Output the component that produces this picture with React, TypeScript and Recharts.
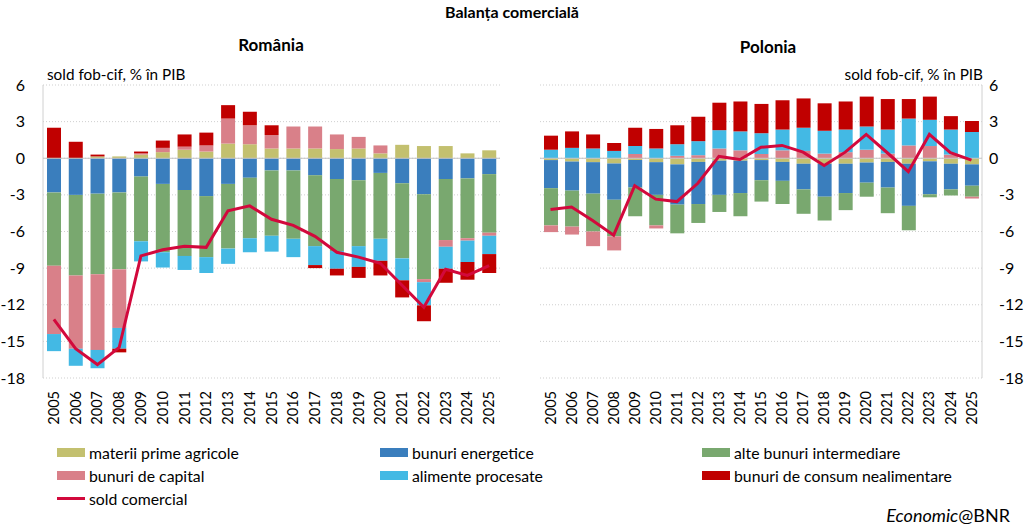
import React from 'react';
import {
  ComposedChart, Bar, Line, XAxis, YAxis, CartesianGrid, ReferenceLine,
} from 'recharts';

const years = ['2005','2006','2007','2008','2009','2010','2011','2012','2013','2014','2015','2016','2017','2018','2019','2020','2021','2022','2023','2024','2025'];
const yTicks = [-18, -15, -12, -9, -6, -3, 0, 3, 6];

// România
const roAgri = [0, 0, 0.15, 0.15, 0.3, 0.5, 0.7, 0.55, 1.2, 1.15, 0.8, 0.8, 0.8, 0.75, 0.8, 0.4, 1.1, 1.0, 1.0, 0.4, 0.65];
const roEnergy = [-2.8, -3.0, -2.9, -2.8, -1.5, -2.1, -2.6, -3.1, -2.1, -1.6, -1.0, -1.0, -1.4, -1.7, -1.8, -1.2, -2.05, -2.95, -1.7, -1.65, -1.3];
const roInter = [-6.0, -6.6, -6.6, -6.3, -5.3, -5.6, -5.4, -5.0, -5.3, -4.95, -5.35, -5.6, -5.8, -5.9, -5.4, -5.4, -6.15, -6.95, -5.0, -4.9, -4.8];
const roCapital = [-5.6, -6.0, -6.2, -4.8, 0.1, 0.35, 0.25, 0.5, 2.05, 1.55, 1.1, 1.8, 1.8, 1.2, 0.95, 0.65, 0, -0.25, -0.55, -0.2, -0.25];
const roFood = [-1.4, -1.4, -1.5, -1.7, -1.65, -1.25, -1.15, -1.3, -1.25, -1.15, -1.3, -1.5, -1.55, -1.45, -1.7, -1.8, -1.8, -1.9, -1.8, -1.75, -1.5];
const roConsumer = [2.5, 1.35, 0.15, -0.3, 0.15, 0.6, 1.0, 1.05, 1.1, 1.1, 0.8, 0, -0.25, -0.55, -0.9, -1.2, -1.4, -1.3, -1.15, -1.45, -1.55];
const roBalance = [-13.2, -15.6, -16.9, -15.5, -8.0, -7.5, -7.2, -7.3, -4.3, -3.9, -5.0, -5.5, -6.4, -7.7, -8.1, -8.6, -10.4, -12.2, -9.1, -9.6, -8.8];

// Polonia
const plAgri = [-0.15, -0.27, -0.32, -0.43, -0.15, -0.32, -0.5, -0.3, -0.2, -0.2, -0.15, -0.3, -0.45, -0.45, -0.45, -0.35, -0.3, -0.45, -0.25, -0.45, -0.5];
const plEnergy = [-2.3, -2.38, -2.58, -2.97, -2.25, -2.68, -3.3, -3.45, -2.8, -2.65, -1.65, -1.55, -2.1, -2.7, -2.4, -1.65, -2.1, -3.45, -2.7, -2.1, -1.75];
const plInter = [-3.05, -2.95, -3.1, -3.0, -2.35, -2.5, -2.35, -1.55, -1.4, -1.9, -1.75, -1.9, -2.0, -1.95, -1.4, -1.15, -2.1, -2.0, -0.25, -0.5, -0.9];
const plCapital = [-0.55, -0.65, -1.2, -1.15, 0.35, -0.25, 0.2, 0.25, 0.8, 0.65, 0.35, 0.65, 0.6, 0.38, 0.5, 0.7, 0.38, 1.05, 1.0, 0.3, -0.15];
const plFood = [0.7, 0.85, 0.8, 0.6, 0.65, 0.8, 0.95, 1.15, 1.5, 1.55, 1.7, 1.7, 1.9, 1.87, 1.85, 1.9, 1.97, 2.2, 2.15, 2.05, 2.15];
const plConsumer = [1.15, 1.35, 1.15, 0.65, 1.5, 1.6, 1.55, 2.0, 2.25, 2.45, 2.4, 2.4, 2.4, 2.25, 2.3, 2.45, 2.5, 1.6, 1.9, 1.1, 0.9];
const plBalance = [-4.2, -4.0, -5.1, -6.3, -2.25, -3.35, -3.55, -2.05, 0.15, -0.1, 0.9, 1.05, 0.5, -0.6, 0.5, 1.95, 0.45, -1.1, 1.95, 0.45, -0.15];

const seriesKeys = ['agri', 'energy', 'inter', 'capital', 'food', 'consumer'];
const seriesNames = ['materii prime agricole', 'bunuri energetice', 'alte bunuri intermediare', 'bunuri de capital', 'alimente procesate', 'bunuri de consum nealimentare'];
const seriesColors = ['#C3C06F', '#3A7EBD', '#79A86F', '#D98089', '#43B9E4', '#C00000'];
const lineName = 'sold comercial';
const lineColor = '#D2093C';

const build = (a: number[], e: number[], i: number[], c: number[], f: number[], n: number[], b: number[]) =>
  years.map((y, k) => ({ year: y, agri: a[k], energy: e[k], inter: i[k], capital: c[k], food: f[k], consumer: n[k], balance: b[k] }));

const roData = build(roAgri, roEnergy, roInter, roCapital, roFood, roConsumer, roBalance);
const plData = build(plAgri, plEnergy, plInter, plCapital, plFood, plConsumer, plBalance);

const FONT = 'Lato, "Noto Sans", sans-serif';

const YearTick = (props: any) => {
  const { x, y, payload } = props;
  return (
    <g transform={`translate(${x},${y + 13})`}>
      <text transform="rotate(-90)" textAnchor="end" dy="0.35em" fontSize={14.5} fill="#000" fontFamily={FONT}>
        {payload.value}
      </text>
    </g>
  );
};

const LeftTick = (props: any) => {
  const { x, y, payload } = props;
  return (
    <text x={x - 18} y={y} dy="0.35em" textAnchor="end" fontSize={16} fill="#000" fontFamily={FONT}>
      {payload.value}
    </text>
  );
};

const RightTick = (props: any) => {
  const { x, y, payload } = props;
  return (
    <text x={x + (payload.value < 0 ? 17 : 7)} y={y} dy="0.35em" textAnchor="start" fontSize={16} fill="#000" fontFamily={FONT}>
      {payload.value}
    </text>
  );
};

const Panel = ({ data, side }: { data: any[]; side: 'left' | 'right' }) => {
  const isLeft = side === 'left';
  return (
    <ComposedChart
      width={512}
      height={430}
      data={data}
      stackOffset="sign"
      margin={isLeft ? { top: 85, right: 12, bottom: 0, left: 0 } : { top: 85, right: 0, bottom: 0, left: 28 }}
    >
      <CartesianGrid vertical={false} stroke="#cfcfcf" strokeDasharray="1 2" />
      <XAxis dataKey="year" interval={0} height={52} tickSize={0} tickMargin={0} axisLine={false} tickLine={false} tick={<YearTick />} />
      <YAxis
        orientation={isLeft ? 'left' : 'right'}
        width={isLeft ? 43 : 42}
        domain={[-18, 6]}
        ticks={yTicks}
        interval={0}
        tickSize={0}
        tickMargin={0}
        tickLine={false}
        axisLine={{ stroke: '#d0d0d0' }}
        tick={isLeft ? <LeftTick /> : <RightTick />}
      />
      <ReferenceLine y={0} stroke="#c4c4c4" strokeWidth={1} />
      {seriesKeys.map((k, idx) => (
        <Bar key={k} dataKey={k} name={seriesNames[idx]} stackId="s" fill={seriesColors[idx]} barSize={14} isAnimationActive={false} />
      ))}
      <Line type="linear" dataKey="balance" name={lineName} stroke={lineColor} strokeWidth={3} dot={false} activeDot={false} isAnimationActive={false} />
    </ComposedChart>
  );
};

const legendLayout = [
  { idx: 0, x: 57, y: 452 },
  { idx: 1, x: 380, y: 452 },
  { idx: 2, x: 702, y: 452 },
  { idx: 3, x: 57, y: 475 },
  { idx: 4, x: 380, y: 475 },
  { idx: 5, x: 702, y: 475 },
];

export default function App() {
  const txt: React.CSSProperties = { position: 'absolute', fontFamily: FONT, color: '#000', whiteSpace: 'nowrap', lineHeight: 1 };
  return (
    <div style={{ position: 'absolute', left: 0, top: 0, width: 1024, height: 530, background: '#fff', overflow: 'hidden', fontFamily: FONT }}>
      <div style={{ ...txt, left: 0, width: 1024, top: 4, textAlign: 'center', fontWeight: 700, fontSize: 16 }}>Balanța comercială</div>
      <div style={{ ...txt, left: 171, width: 200, top: 36, textAlign: 'center', fontWeight: 700, fontSize: 17 }}>România</div>
      <div style={{ ...txt, left: 668, width: 200, top: 38, textAlign: 'center', fontWeight: 700, fontSize: 17 }}>Polonia</div>

      <div style={{ position: 'absolute', left: 0, top: 0 }}>
        <Panel data={roData} side="left" />
      </div>
      <div style={{ position: 'absolute', left: 512, top: 0 }}>
        <Panel data={plData} side="right" />
      </div>

      <div style={{ ...txt, left: 47, top: 67, fontSize: 15.3 }}>sold fob-cif, % în PIB</div>
      <div style={{ ...txt, right: 1024 - 983, top: 67, fontSize: 15.3 }}>sold fob-cif, % în PIB</div>

      {legendLayout.map((l) => (
        <div key={l.idx} style={{ position: 'absolute', left: l.x, top: l.y - 9, height: 18, display: 'flex', alignItems: 'center' }}>
          <span style={{ display: 'inline-block', width: 28, height: 9, background: seriesColors[l.idx], marginRight: 4 }} />
          <span style={{ fontFamily: FONT, fontSize: 15.8, color: '#000', whiteSpace: 'nowrap' }}>{seriesNames[l.idx]}</span>
        </div>
      ))}
      <div style={{ position: 'absolute', left: 57, top: 498 - 9, height: 18, display: 'flex', alignItems: 'center' }}>
        <span style={{ display: 'inline-block', width: 28, height: 3, background: lineColor, marginRight: 4 }} />
        <span style={{ fontFamily: FONT, fontSize: 15.8, color: '#000', whiteSpace: 'nowrap' }}>{lineName}</span>
      </div>

      <div style={{ ...txt, right: 1024 - 1010, top: 506, fontSize: 18 }}>
        <i>Economic</i>@BNR
      </div>
    </div>
  );
}
